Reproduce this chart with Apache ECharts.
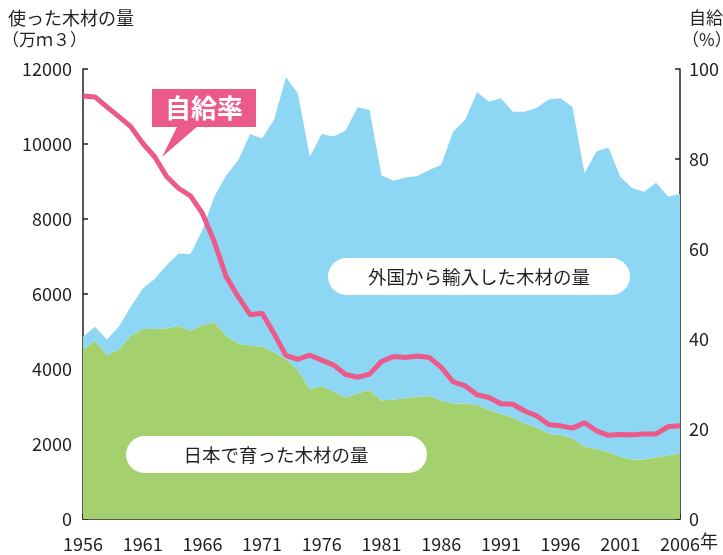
<!DOCTYPE html>
<html>
<head>
<meta charset="utf-8">
<title>木材の量と自給率</title>
<script src="https://cdn.jsdelivr.net/npm/echarts@6/dist/echarts.min.js"></script>
<style>
  html, body { margin: 0; padding: 0; background: #fff; }
  #chart { width: 723px; height: 555px; }
</style>
</head>
<body>
<div id="chart"></div>
<script>
// years 1956 .. 2006
const years = []
for (let y = 1956; y <= 2006; y++) years.push(String(y))

// 日本で育った木材の量 (万m3)
const domestic = [4530, 4750, 4370, 4520, 4880, 5070, 5070, 5090, 5150, 5020,
  5170, 5250, 4880, 4680, 4620, 4600, 4440, 4260, 3970, 3460,
  3550, 3400, 3240, 3350, 3440, 3160, 3190, 3220, 3260, 3280,
  3160, 3080, 3080, 3040, 2910, 2800, 2710, 2550, 2440, 2280,
  2240, 2150, 1930, 1870, 1790, 1660, 1590, 1590, 1640, 1700, 1750]

// 外国から輸入した木材の量 (万m3)
const imported = [330, 380, 420, 610, 780, 1080, 1330, 1680, 1930, 2050,
  2540, 3350, 4290, 4890, 5650, 5550, 6210, 7520, 7380, 6200,
  6720, 6800, 7120, 7630, 7470, 6010, 5830, 5890, 5890, 6030,
  6290, 7250, 7560, 8340, 8220, 8420, 8150, 8310, 8530, 8910,
  8980, 8840, 7290, 7930, 8120, 7470, 7230, 7140, 7330, 6900, 6920]

// 自給率 (%)
const selfRate = [94.0, 93.8, 91.6, 89.4, 87.2, 83.5, 80.5, 76.1, 73.5, 71.8,
  67.9, 61.6, 53.8, 49.4, 45.4, 45.7, 41.2, 36.3, 35.5, 36.4,
  35.3, 34.2, 32.1, 31.5, 32.2, 35.0, 36.1, 35.9, 36.2, 35.9,
  33.7, 30.5, 29.6, 27.6, 27.0, 25.6, 25.5, 24.0, 22.9, 21.0,
  20.7, 20.2, 21.4, 19.6, 18.6, 18.8, 18.7, 18.9, 18.9, 20.5, 20.7]

const ink = '#231f20'
const font = '"Noto Sans CJK JP", "Noto Sans", sans-serif'
const blue = '#8dd7f5'
const green = '#a4d06e'
const pink = '#ec5a8a'

const chart = echarts.init(document.getElementById('chart'))

const axisLine = { show: true, lineStyle: { color: ink, width: 1.5 } }
const axisTick = { show: true, inside: true, length: 5, lineStyle: { color: ink, width: 1.5 } }

chart.setOption({
  animation: false,
  backgroundColor: '#fff',
  textStyle: { fontFamily: font },
  grid: { left: 83, right: 43, top: 69, bottom: 36, outerBoundsMode: 'none' },
  xAxis: {
    type: 'category',
    boundaryGap: false,
    data: years,
    axisLine: axisLine,
    axisTick: Object.assign({ interval: 4 }, axisTick),
    axisLabel: { interval: 4, color: ink, fontSize: 18, margin: 16, fontFamily: font },
    splitLine: { show: false }
  },
  yAxis: [{
    type: 'value',
    min: 0,
    max: 12000,
    interval: 2000,
    axisLine: axisLine,
    axisTick: axisTick,
    axisLabel: { color: ink, fontSize: 18, margin: 11, fontFamily: font, formatter: v => String(v) },
    splitLine: { show: false }
  }, {
    type: 'value',
    min: 0,
    max: 100,
    interval: 20,
    position: 'right',
    axisLine: axisLine,
    axisTick: axisTick,
    axisLabel: { color: ink, fontSize: 18, margin: 9, fontFamily: font },
    splitLine: { show: false }
  }],
  series: [{
    name: '日本で育った木材の量',
    type: 'line',
    stack: 'wood',
    data: domestic,
    showSymbol: false,
    lineStyle: { width: 0 },
    areaStyle: { color: green, opacity: 1 },
    z: 1
  }, {
    name: '外国から輸入した木材の量',
    type: 'line',
    stack: 'wood',
    data: imported,
    showSymbol: false,
    lineStyle: { width: 0 },
    areaStyle: { color: blue, opacity: 1 },
    z: 1
  }, {
    name: '自給率',
    type: 'line',
    yAxisIndex: 1,
    data: selfRate,
    showSymbol: false,
    lineStyle: { color: pink, width: 5 },
    z: 3
  }],
  graphic: [
    { type: 'text', left: 8, top: 9, style: { text: '使った木材の量', font: '18px ' + font, fill: ink } },
    { type: 'text', left: 2, top: 31, style: { text: '（万ｍ３）', font: '17px ' + font, fill: ink } },
    { type: 'text', left: 689, top: 9, style: { text: '自給率', font: '17px ' + font, fill: ink } },
    { type: 'text', left: 682, top: 31, style: { text: '（%）', font: '17px ' + font, fill: ink } },
    { type: 'text', left: 700, top: 532, style: { text: '年', font: '18px ' + font, fill: ink } },
    // callout for the rate line
    { type: 'polygon', shape: { points: [[178, 125], [199, 125], [162, 157]] }, style: { fill: pink }, z: 10 },
    { type: 'rect', shape: { x: 152, y: 89, width: 104, height: 38 }, style: { fill: pink }, z: 10 },
    { type: 'text', x: 204, y: 108, style: { text: '自給率', font: 'bold 26px ' + font, fill: '#fff', align: 'center', verticalAlign: 'middle' }, z: 11 },
    // area labels
    { type: 'rect', shape: { x: 328, y: 258, width: 302, height: 37, r: 18.5 }, style: { fill: '#fff' }, z: 10 },
    { type: 'text', x: 479, y: 277, style: { text: '外国から輸入した木材の量', font: '18.5px ' + font, fill: ink, align: 'center', verticalAlign: 'middle' }, z: 11 },
    { type: 'rect', shape: { x: 126, y: 436, width: 301, height: 37, r: 18.5 }, style: { fill: '#fff' }, z: 10 },
    { type: 'text', x: 276, y: 455, style: { text: '日本で育った木材の量', font: '18.5px ' + font, fill: ink, align: 'center', verticalAlign: 'middle' }, z: 11 }
  ]
})
</script>
</body>
</html>
